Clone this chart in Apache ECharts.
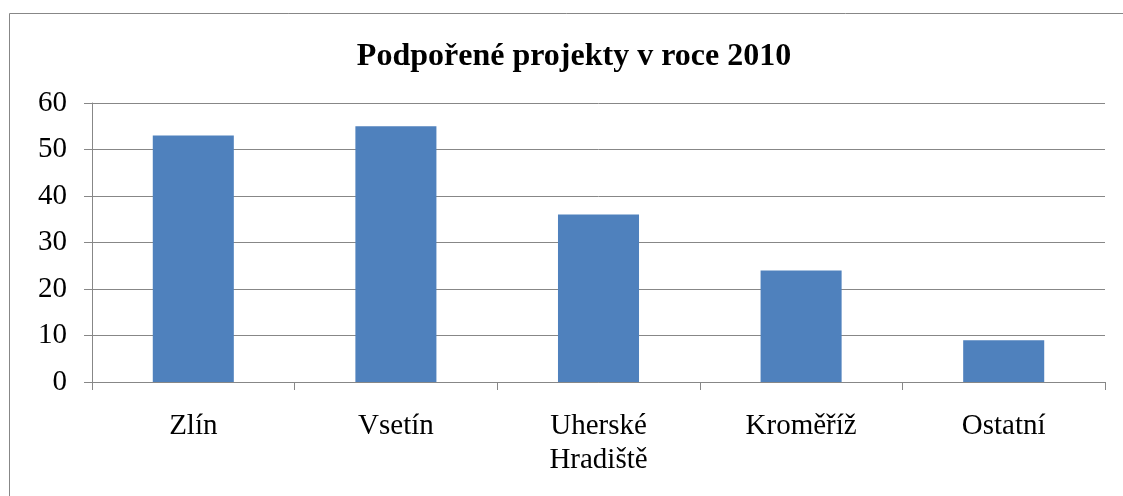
<!DOCTYPE html>
<html>
<head>
<meta charset="utf-8">
<script src="https://cdn.jsdelivr.net/npm/echarts@6/dist/echarts.min.js"></script>
<style>
  html, body { margin: 0; padding: 0; background: #fff; }
  #chart { width: 1123px; height: 496px; }
</style>
</head>
<body>
<div id="chart"></div>
<script>
const titleText = 'Podpořené projekty v roce 2010';
const categories = ['Zlín', 'Vsetín', 'Uherské Hradiště', 'Kroměříž', 'Ostatní'];
const projects = [53, 55, 36, 24, 9];
const yTicks = [0, 10, 20, 30, 40, 50, 60];

const FONT = '"Liberation Serif", "Times New Roman", serif';
const GRAY = '#878787';

const chart = echarts.init(document.getElementById('chart'), null, { renderer: 'canvas' });
chart.setOption({
  animation: false,
  backgroundColor: '#ffffff',
  graphic: [{
    type: 'rect',
    shape: { x: 9.5, y: 13.5, width: 1300, height: 700 },
    style: { fill: 'none', stroke: GRAY, lineWidth: 1 },
    silent: true
  }],
  title: {
    text: titleText,
    left: 569,
    textAlign: 'center',
    top: 36,
    textStyle: { fontFamily: FONT, fontWeight: 'bold', fontSize: 32, color: '#000' }
  },
  grid: { left: 92, right: 18, top: 103, bottom: 114, containLabel: false },
  xAxis: {
    type: 'category',
    data: categories,
    boundaryGap: true,
    axisLine: { show: true, lineStyle: { color: GRAY, width: 1 } },
    axisTick: { show: true, length: 8, inside: false, lineStyle: { color: GRAY } },
    axisLabel: {
      interval: 0,
      margin: 27,
      fontFamily: FONT, fontSize: 29, color: '#000', lineHeight: 34,
      formatter: v => v.replace(' ', '\n')
    },
    splitLine: { show: false }
  },
  yAxis: {
    type: 'value',
    min: yTicks[0],
    max: yTicks[yTicks.length - 1],
    interval: yTicks[1] - yTicks[0],
    axisLine: { show: true, lineStyle: { color: GRAY, width: 1 } },
    axisTick: { show: true, length: 8, inside: false, lineStyle: { color: GRAY } },
    axisLabel: { margin: 25, fontFamily: FONT, fontSize: 29, color: '#000' },
    splitLine: { show: true, lineStyle: { color: GRAY, width: 1 } }
  },
  series: [{
    type: 'bar',
    data: projects,
    barWidth: '40%',
    itemStyle: { color: '#4F81BD' }
  }]
});
</script>
</body>
</html>
